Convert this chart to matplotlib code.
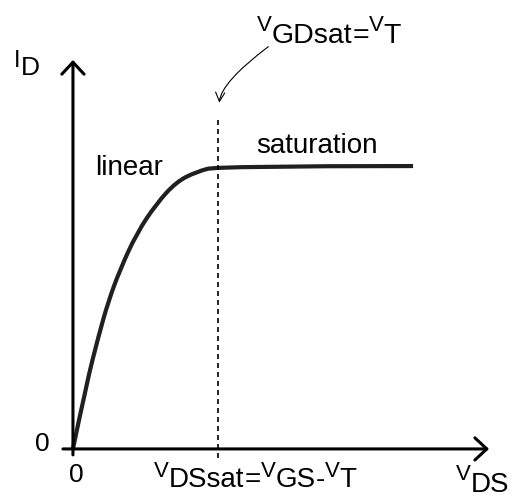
import matplotlib
matplotlib.use('Agg')
import matplotlib.pyplot as plt
from matplotlib.path import Path
from matplotlib.patches import PathPatch
from matplotlib.transforms import offset_copy

plt.rcParams['font.family'] = 'Liberation Sans'

# I-V curve (V_DS normalised to V_DSsat, I_D to I_Dsat)
vds = [0, 0.094, 0.177, 0.243, 0.324, 0.439, 0.577, 0.715, 0.853, 1.0, 2.345]
i_d = [0, 0.232, 0.400, 0.520, 0.633, 0.762, 0.868, 0.945, 0.980, 1.0, 1.0]
vds_sat = 1.0

fig = plt.figure(figsize=(5.14, 4.99), dpi=100)
ax = fig.add_axes([0, 0, 1, 1])
ax.set_xlim(-0.503, 3.041)
ax.set_ylim(-0.177, 1.587)
ax.axis('off')

# axes as arrows
ax_arrow = dict(arrowstyle='->,head_length=0.43,head_width=0.4', lw=2.2,
                color='black', mutation_scale=20, shrinkA=0, shrinkB=0)
ax.annotate('', xy=(2.869, 0), xytext=(-0.069, 0), arrowprops=ax_arrow)
ax.annotate('', xy=(0, 1.375), xytext=(0, -0.021), arrowprops=ax_arrow)

# curve, smoothed with quadratic segments through the read points
pts = list(zip(vds, i_d))
verts = [pts[0]]
codes = [Path.MOVETO]
for i in range(1, len(pts) - 2):
    mid = ((pts[i][0] + pts[i + 1][0]) / 2, (pts[i][1] + pts[i + 1][1]) / 2)
    verts += [pts[i], mid]
    codes += [Path.CURVE3, Path.CURVE3]
verts += [pts[-2], pts[-1]]
codes += [Path.CURVE3, Path.CURVE3]
ax.add_patch(PathPatch(Path(verts, codes), fill=False, lw=3.0,
                       edgecolor='#231f20', capstyle='butt'))

# saturation boundary
ax.plot([vds_sat, vds_sat], [-0.032, 1.170], color='black', lw=1.2,
        dashes=(3.0, 2.4))

# pointer arrow from the top label
ax.annotate('', xy=(1.009, 1.224), xytext=(1.347, 1.422),
            arrowprops=dict(arrowstyle='->,head_length=0.65,head_width=0.33',
                            lw=0.8, color='black', mutation_scale=10,
                            shrinkA=0, shrinkB=0,
                            connectionstyle='angle3,angleA=37,angleB=85'))


def put_label(x, y, parts):
    # pieces of text one after another, rise in pixels
    r = fig.canvas.get_renderer()
    dx = 0.0
    for s, size, rise in parts:
        tr = offset_copy(ax.transData, fig=fig, x=dx, y=rise, units='dots')
        t = ax.text(x, y, s, fontsize=size, ha='left', va='baseline',
                    transform=tr, color='black')
        dx += t.get_window_extent(r).width


ax.text(-0.210, -0.006, '0', fontsize=19, ha='center', va='baseline')
ax.text(0.024, -0.116, '0', fontsize=19, ha='center', va='baseline')
ax.text(0.152, 0.968, 'linear', fontsize=20, ha='left', va='baseline')
ax.text(1.262, 1.046, 'saturation', fontsize=20, ha='left', va='baseline')

put_label(-0.407, 1.322, [('I', 17, 8.3), ('D', 19, 0)])
put_label(0.559, -0.135, [('V', 16, 10.6), ('DSsat', 20, 0), ('=', 20, 0),
                          ('V', 16, 10.6), ('GS', 20, 0), ('-', 20, 0),
                          ('V', 16, 10.6), ('T', 20, 0)])
put_label(2.640, -0.152, [('V', 16, 12), ('DS', 20, 0)])
put_label(1.267, 1.434, [('V', 16, 12.6), ('GDsat', 20.5, 0), ('=', 20.5, 0),
                         ('V', 16, 12.6), ('T', 20.5, 0)])

fig.savefig('out.png', dpi=100)
